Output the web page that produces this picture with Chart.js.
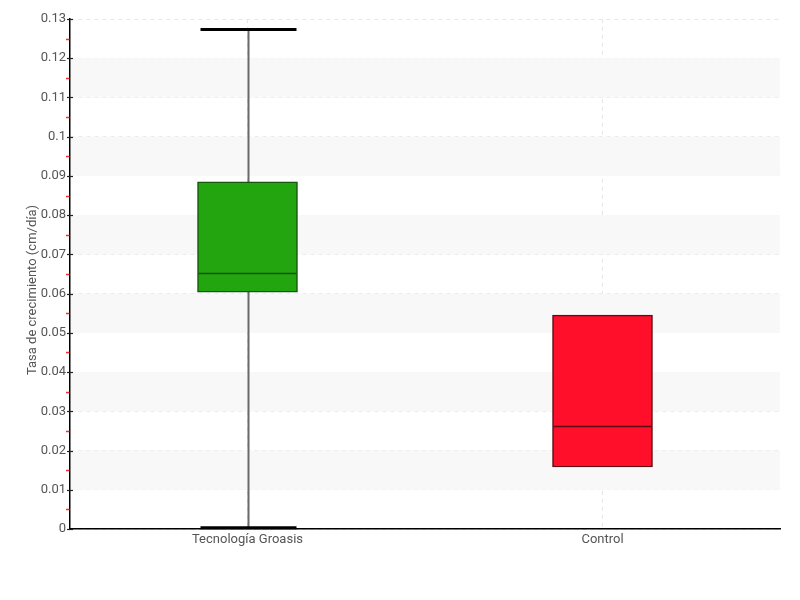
<!DOCTYPE html>
<html lang="es">
<head>
  <meta charset="UTF-8">
  <title>Tasa de crecimiento</title>
  <script src="https://cdn.jsdelivr.net/npm/chart.js"></script>
  <style>
    body { margin: 0; background: #fff; }
    #wrap { width: 800px; height: 600px; }
  </style>
</head>
<body>
  <div id="wrap">
    <canvas id="myChart"></canvas>
  </div>

  <script>
    // data
    const categories = ['Tecnología Groasis', 'Control'];
    const minValues = [0.0003, 0.0158];
    const q1Values = [0.0604, 0.0158];
    const medianValues = [0.0653, 0.0262];
    const q3Values = [0.0885, 0.0545];
    const maxValues = [0.1273, 0.0545];
    const fillColors = ['#22a50f', '#ff0f2a'];
    const edgeColors = ['#16560c', '#5e0b14'];
    const yTitle = 'Tasa de crecimiento (cm/día)';

    const FONT = "Roboto, 'Liberation Sans Narrow', sans-serif";

    // alternating grey bands behind the data, tick marks and axis title on top
    const bandsPlugin = {
      id: 'bands',
      beforeDatasetsDraw(chart) {
        const { ctx, chartArea } = chart;
        const y = chart.scales.y;
        ctx.save();
        ctx.fillStyle = '#f8f8f8';
        for (let v = 0.01; v < 0.13; v += 0.02) {
          const top = y.getPixelForValue(v + 0.01);
          const bot = y.getPixelForValue(v);
          ctx.fillRect(chartArea.left + 1, top, chartArea.right - chartArea.left - 1, bot - top);
        }
        ctx.restore();
      },
      afterDraw(chart) {
        const { ctx, chartArea } = chart;
        const y = chart.scales.y;
        ctx.save();
        ctx.lineWidth = 1;
        for (let i = 0; i <= 26; i++) {
          const p = Math.round(y.getPixelForValue(i * 0.005)) + 0.5;
          ctx.beginPath();
          if (i % 2) {
            ctx.strokeStyle = '#ff2a2a';
            ctx.lineWidth = 1.5;
            ctx.moveTo(chartArea.left - 4, p);
            ctx.lineTo(chartArea.left - 0.5, p);
          } else {
            ctx.strokeStyle = '#222';
            ctx.lineWidth = 1.2;
            ctx.moveTo(chartArea.left - 3, p);
            ctx.lineTo(chartArea.left + 3, p);
          }
          ctx.stroke();
        }
        ctx.translate(33, 290);
        ctx.rotate(-Math.PI / 2);
        ctx.fillStyle = '#555';
        ctx.font = '13px ' + FONT;
        ctx.textAlign = 'center';
        ctx.textBaseline = 'middle';
        ctx.fillText(yTitle, 0, 0);
        ctx.restore();
      }
    };

    // whiskers under the boxes, medians over them
    const boxPlugin = {
      id: 'boxes',
      beforeDatasetsDraw(chart) {
        const { ctx } = chart;
        const x = chart.scales.x, y = chart.scales.y;
        ctx.save();
        categories.forEach((c, i) => {
          const cx = Math.round(x.getPixelForValue(i)) + 0.5;
          if (maxValues[i] > q3Values[i] || minValues[i] < q1Values[i]) {
            ctx.strokeStyle = '#6a6a6a';
            ctx.lineWidth = 2;
            ctx.beginPath();
            ctx.moveTo(cx, y.getPixelForValue(maxValues[i]));
            ctx.lineTo(cx, y.getPixelForValue(minValues[i]));
            ctx.stroke();
            ctx.strokeStyle = '#000';
            ctx.lineWidth = 3;
            [minValues[i], maxValues[i]].forEach(v => {
              const p = y.getPixelForValue(v);
              ctx.beginPath();
              ctx.moveTo(cx - 48, p);
              ctx.lineTo(cx + 48, p);
              ctx.stroke();
            });
          }
        });
        ctx.restore();
      },
      afterDatasetsDraw(chart) {
        const { ctx } = chart;
        const x = chart.scales.x, y = chart.scales.y;
        ctx.save();
        categories.forEach((c, i) => {
          const cx = x.getPixelForValue(i);
          const p = Math.round(y.getPixelForValue(medianValues[i])) + 0.5;
          ctx.strokeStyle = edgeColors[i];
          ctx.lineWidth = 1.5;
          ctx.beginPath();
          ctx.moveTo(cx - 49, p);
          ctx.lineTo(cx + 49, p);
          ctx.stroke();
        });
        ctx.restore();
      }
    };

    const ctx = document.getElementById('myChart').getContext('2d');
    const chart = new Chart(ctx, {
      type: 'bar',
      data: {
        labels: categories,
        datasets: [{
          data: categories.map((c, i) => [q1Values[i], q3Values[i]]),
          backgroundColor: fillColors,
          borderColor: edgeColors,
          borderWidth: 1.5,
          borderSkipped: false,
          barThickness: 100
        }]
      },
      options: {
        responsive: true,
        maintainAspectRatio: false,
        animation: false,
        layout: { padding: { top: 19, right: 20, left: 0, bottom: 0 } },
        plugins: {
          legend: { display: false },
          tooltip: { enabled: false }
        },
        scales: {
          x: {
            grid: {
              offset: false,
              color: '#e6e6e6',
              tickLength: 0
            },
            border: { color: '#000', width: 1.5, dash: [4, 4] },
            ticks: {
              color: '#555',
              padding: 3,
              font: { family: FONT, size: 13 }
            },
            afterFit(s) { s.height = 71; }
          },
          y: {
            min: 0,
            max: 0.13,
            ticks: {
              stepSize: 0.01,
              color: '#555',
              padding: 4,
              font: { family: FONT, size: 13 },
              callback: v => +v.toFixed(2)
            },
            grid: {
              color: '#e6e6e6',
              tickLength: 0
            },
            border: { color: '#000', width: 1.5, dash: [4, 4] },
            afterFit(s) { s.width = 70; }
          }
        }
      },
      plugins: [bandsPlugin, boxPlugin]
    });
  </script>
</body>
</html>
